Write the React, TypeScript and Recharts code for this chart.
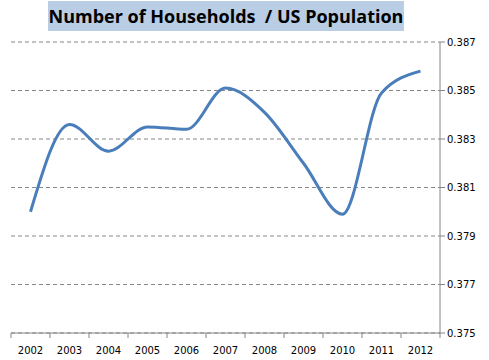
import { LineChart, Line, XAxis, YAxis, CartesianGrid } from "recharts";

const years = ["2002", "2003", "2004", "2005", "2006", "2007", "2008", "2009", "2010", "2011", "2012"];
const ratio = [0.38, 0.3836, 0.3825, 0.3835, 0.3834, 0.3851, 0.3841, 0.382, 0.3799, 0.3849, 0.3858];
const yTicks = [0.375, 0.377, 0.379, 0.381, 0.383, 0.385, 0.387];

const chartData = years.map((y, i) => ({ year: y, value: ratio[i] }));

const PLOT_W = 429;
const BAND = PLOT_W / years.length;

const YearTick = (props: any) => {
  const { x, y, payload, index } = props;
  const axisY = y - 7;
  return (
    <g>
      <line x1={x - BAND / 2} x2={x - BAND / 2} y1={axisY} y2={axisY + 5} stroke="#868686" />
      {index === years.length - 1 && (
        <line x1={x + BAND / 2} x2={x + BAND / 2} y1={axisY} y2={axisY + 5} stroke="#868686" />
      )}
      <text x={x} y={axisY + 21} textAnchor="middle" fill="#000" fontSize={10} fontFamily="'DejaVu Sans', sans-serif">
        {payload.value}
      </text>
    </g>
  );
};

export default function App() {
  return (
    <div style={{ position: "absolute", left: 0, top: 0, width: 489, height: 360, background: "#fff" }}>
      <div
        style={{
          position: "absolute",
          left: 48,
          top: 1,
          width: 356,
          height: 30,
          background: "#b9cde5",
          fontFamily: "'Open Sans', sans-serif",
          fontWeight: 700,
          fontSize: 18,
          lineHeight: "30px",
          textAlign: "center",
          color: "#000",
          whiteSpace: "pre",
        }}
      >
        {"Number of Households  / US Population"}
      </div>
      <LineChart width={489} height={360} data={chartData} margin={{ top: 42, right: 0, left: 11, bottom: 0 }}>
        <CartesianGrid vertical={false} stroke="#868686" strokeDasharray="4 3" />
        <XAxis
          dataKey="year"
          scale="band"
          height={27}
          stroke="#868686"
          tickSize={5}
          tickLine={false}
          tick={<YearTick />}
          interval={0}
        />
        <YAxis
          orientation="right"
          width={49}
          domain={[0.375, 0.387]}
          ticks={yTicks}
          stroke="#868686"
          tickSize={5}
          tickFormatter={(v: number) => v.toFixed(3)}
          tick={{ fill: "#000", fontSize: 10, fontFamily: "'DejaVu Sans', sans-serif" }}
        />
        <Line type="monotone" dataKey="value" stroke="#4a7ebb" strokeWidth={3} dot={false} isAnimationActive={false} />
      </LineChart>
    </div>
  );
}
